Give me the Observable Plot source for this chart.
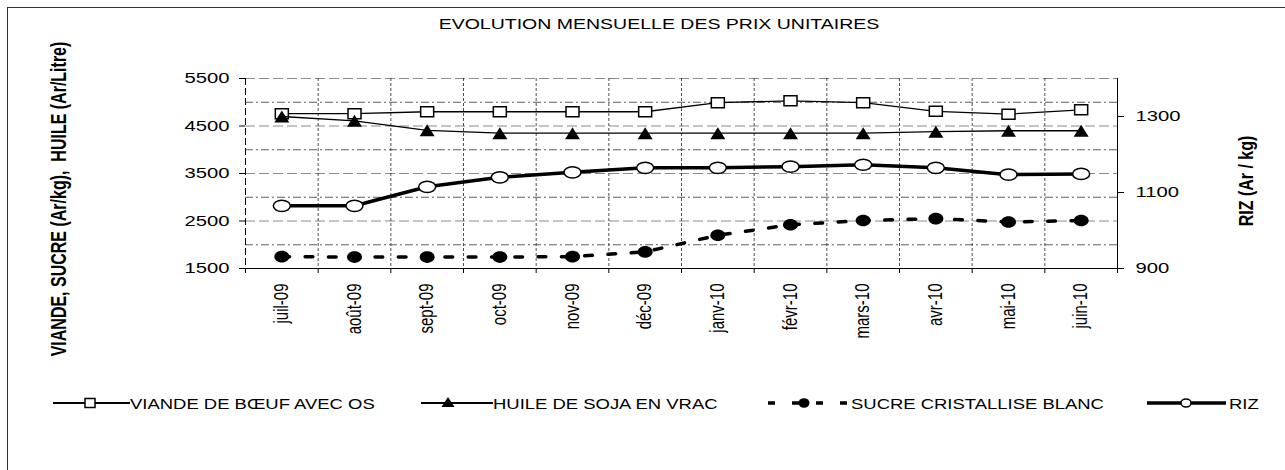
<!DOCTYPE html>
<html><head><meta charset="utf-8">
<script src="https://cdn.jsdelivr.net/npm/d3@7"></script>
<script src="https://cdn.jsdelivr.net/npm/@observablehq/plot@0.6"></script>
<style>
html,body{margin:0;padding:0;background:#fff;}
#wrap{position:relative;width:1285px;height:470px;overflow:hidden;font-family:'Liberation Sans',Arial,sans-serif;color:#000;background:#fff;}
#border{position:absolute;left:7px;top:7px;width:1400px;height:520px;border:1.5px solid #333;box-sizing:border-box;}
#title{position:absolute;left:659px;top:23px;transform:translate(-50%,-50%) scaleX(1.3);font-size:15px;white-space:nowrap;}
.vt{position:absolute;white-space:nowrap;font-weight:bold;}
#chart{position:absolute;left:0;top:0;}
.legtxt{position:absolute;font-size:15px;white-space:nowrap;transform-origin:0 50%;transform:translateY(-50%) scaleX(1.23);}
.legsvg{position:absolute;overflow:visible;}
</style></head>
<body>
<div id="wrap">
  <div id="border"></div>
  <div id="title">EVOLUTION MENSUELLE DES PRIX UNITAIRES</div>
  <div id="chart"></div>
  <div class="vt" id="ltitle">VIANDE, SUCRE (Ar/kg),&nbsp; HUILE (Ar/Litre)</div>
  <div class="vt" id="rtitle">RIZ (Ar / kg)</div>
</div>
<script>
// ---- data ----
const months = ["juil-09","août-09","sept-09","oct-09","nov-09","déc-09","janv-10","févr-10","mars-10","avr-10","mai-10","juin-10"];
const viande = [4760,4760,4800,4800,4800,4800,4990,5030,4990,4810,4750,4840];
const huile  = [4700,4610,4410,4350,4350,4350,4350,4350,4350,4380,4400,4400];
const sucre  = [1750,1740,1740,1740,1750,1850,2200,2420,2510,2550,2480,2510];
const riz    = [1065,1065,1115,1140,1153,1165,1165,1168,1173,1165,1147,1149];
const leftTicks = [1500,2500,3500,4500,5500];
const rightTicks = [900,1100,1300];
const gridLong = [2500,3500,4500,5500];
const gridDashDot = [2000,3000,4000,5000];
const seriesNames = ["VIANDE DE BŒUF AVEC OS","HUILE DE SOJA EN VRAC","SUCRE CRISTALLISE BLANC","RIZ"];

// secondary axis (900..1400) mapped onto primary (1500..5500)
const toLeft = v => 1500 + (v - 900) * 8;
const fromLeft = v => Math.round((v - 1500) / 8 + 900);

// custom symbols (the original chart is horizontally stretched)
const rectSym = (w,h) => ({draw(c){c.moveTo(-w/2,-h/2);c.lineTo(w/2,-h/2);c.lineTo(w/2,h/2);c.lineTo(-w/2,h/2);c.closePath();}});
const triSym = (w,h) => ({draw(c){c.moveTo(0,-h/2);c.lineTo(w/2,h/2);c.lineTo(-w/2,h/2);c.closePath();}});
const ellSym = (rx,ry) => ({draw(c){const k=0.5523;c.moveTo(rx,0);c.bezierCurveTo(rx,ry*k,rx*k,ry,0,ry);c.bezierCurveTo(-rx*k,ry,-rx,ry*k,-rx,0);c.bezierCurveTo(-rx,-ry*k,-rx*k,-ry,0,-ry);c.bezierCurveTo(rx*k,-ry,rx,-ry*k,rx,0);c.closePath();}});

const idx = d3.range(months.length);
const X = i => i + 0.5;

const chart = Plot.plot({
  width: 1285, height: 345,
  marginLeft: 245, marginRight: 168, marginTop: 78, marginBottom: 77,
  x: {type: "linear", domain: [0, months.length]},
  y: {domain: [1500, 5500]},
  style: {fontFamily: "'Liberation Sans', Arial, sans-serif", fontSize: "15px", background: "transparent", color: "#000", overflow: "visible"},
  marks: [
    Plot.ruleY(gridLong, {stroke: "#8a8a8a", strokeWidth: 1, strokeDasharray: "10,4"}),
    Plot.ruleY(gridDashDot, {stroke: "#333", strokeWidth: 0.8, strokeDasharray: "8,3,2,3"}),
    Plot.ruleX(d3.range(1, months.length), {stroke: "#222", strokeWidth: 0.8, strokeDasharray: "3,2"}),
    Plot.ruleX([0], {stroke: "#000", strokeWidth: 1, strokeDasharray: "7,3"}),
    Plot.ruleX([months.length], {stroke: "#000", strokeWidth: 1}),
    Plot.ruleY([1500], {stroke: "#000", strokeWidth: 1}),
    Plot.axisY({ticks: leftTicks, anchor: "left", tickSize: 6, tickPadding: 10, fontSize: 15, label: null, tickFormat: d => String(d)}),
    Plot.axisY({ticks: rightTicks.map(toLeft), anchor: "right", tickSize: 6, tickPadding: 12, fontSize: 15, label: null, tickFormat: d => String(fromLeft(d))}),
    Plot.axisX({ticks: d3.range(0, months.length + 1), tickSize: 5, tickFormat: () => "", label: null}),
    Plot.text(idx, {x: X, text: i => months[i], frameAnchor: "bottom", rotate: -90, textAnchor: "end", lineAnchor: "middle", dy: 15, fontSize: 15}),
    // VIANDE
    Plot.line(idx, {x: X, y: i => viande[i], stroke: "#000", strokeWidth: 1.3}),
    Plot.dot(idx, {x: X, y: i => viande[i], symbol: rectSym(13, 10), fill: "#fff", stroke: "#000", strokeWidth: 1.5}),
    // HUILE
    Plot.line(idx, {x: X, y: i => huile[i], stroke: "#000", strokeWidth: 1.3}),
    Plot.dot(idx, {x: X, y: i => huile[i], symbol: triSym(15, 12), fill: "#000", stroke: "none"}),
    // SUCRE
    Plot.line(idx, {x: X, y: i => sucre[i], stroke: "#000", strokeWidth: 3.5, strokeDasharray: "7.7,15.6"}),
    Plot.dot(idx, {x: X, y: i => sucre[i], symbol: ellSym(7.5, 5.8), fill: "#000", stroke: "none"}),
    // RIZ (secondary axis)
    Plot.line(idx, {x: X, y: i => toLeft(riz[i]), stroke: "#000", strokeWidth: 3.5}),
    Plot.dot(idx, {x: X, y: i => toLeft(riz[i]), symbol: ellSym(8.5, 5.6), fill: "#fff", stroke: "#000", strokeWidth: 1.5})
  ]
});

// stretch text horizontally like the original (numbers) / across for rotated month labels
chart.querySelectorAll("text").forEach(el => {
  const s = el.textContent.trim();
  let t = el.getAttribute("transform") || "";
  const xa = el.getAttribute("x");
  if (/^\d+$/.test(s)) {
    if (xa && !/em$/.test(xa)) { t += ` translate(${xa},0)`; el.removeAttribute("x"); }
    el.setAttribute("transform", t + " scale(1.35,1)");
  } else if (months.includes(s)) {
    el.setAttribute("transform", t + " scale(1,1.3)");
  }
});
document.getElementById("chart").appendChild(chart);

// rotated axis titles
function placeVT(id, cx, cy, fs, sy) {
  const el = document.getElementById(id);
  el.style.fontSize = fs + "px";
  el.style.left = cx + "px"; el.style.top = cy + "px";
  el.style.transform = `translate(-50%,-50%) rotate(-90deg) scaleY(${sy})`;
}
placeVT("ltitle", 58.5, 199, 16, 1.4);
placeVT("rtitle", 1245.5, 181, 16, 1.3);

// legend
const wrap = d3.select("#wrap");
const LY = 403;
function legSvg(x0, x1) {
  return wrap.append("svg").attr("class", "legsvg")
    .style("left", x0 + "px").style("top", (LY - 10) + "px")
    .attr("width", x1 - x0).attr("height", 20);
}
function legText(x, t) {
  wrap.append("div").attr("class", "legtxt").style("left", x + "px").style("top", LY + "px").text(t);
}
// 1 viande
{
  const s = legSvg(53, 130);
  s.append("line").attr("x1", 0).attr("x2", 77).attr("y1", 10).attr("y2", 10).attr("stroke", "#000").attr("stroke-width", 2);
  s.append("rect").attr("x", 37 - 5).attr("y", 10 - 4.5).attr("width", 10).attr("height", 9).attr("fill", "#fff").attr("stroke", "#000").attr("stroke-width", 1.5);
  legText(130, seriesNames[0]);
}
// 2 huile
{
  const s = legSvg(421, 493);
  s.append("line").attr("x1", 0).attr("x2", 72).attr("y1", 10).attr("y2", 10).attr("stroke", "#000").attr("stroke-width", 2);
  s.append("path").attr("d", "M27,4L33.5,14L20.5,14Z").attr("fill", "#000");
  legText(493, seriesNames[1]);
}
// 3 sucre
{
  const s = legSvg(768, 851);
  s.append("line").attr("x1", 0).attr("x2", 80).attr("y1", 10).attr("y2", 10).attr("stroke", "#000").attr("stroke-width", 3.5).attr("stroke-dasharray", "7,17");
  s.append("ellipse").attr("cx", 36).attr("cy", 10).attr("rx", 5.5).attr("ry", 4.8).attr("fill", "#000");
  legText(851, seriesNames[2]);
}
// 4 riz
{
  const s = legSvg(1147, 1226);
  s.append("line").attr("x1", 0).attr("x2", 79).attr("y1", 10).attr("y2", 10).attr("stroke", "#000").attr("stroke-width", 3.5);
  s.append("ellipse").attr("cx", 39).attr("cy", 10).attr("rx", 5).attr("ry", 4).attr("fill", "#fff").attr("stroke", "#000").attr("stroke-width", 1.5);
  legText(1229, seriesNames[3]);
}
</script>
</body></html>
